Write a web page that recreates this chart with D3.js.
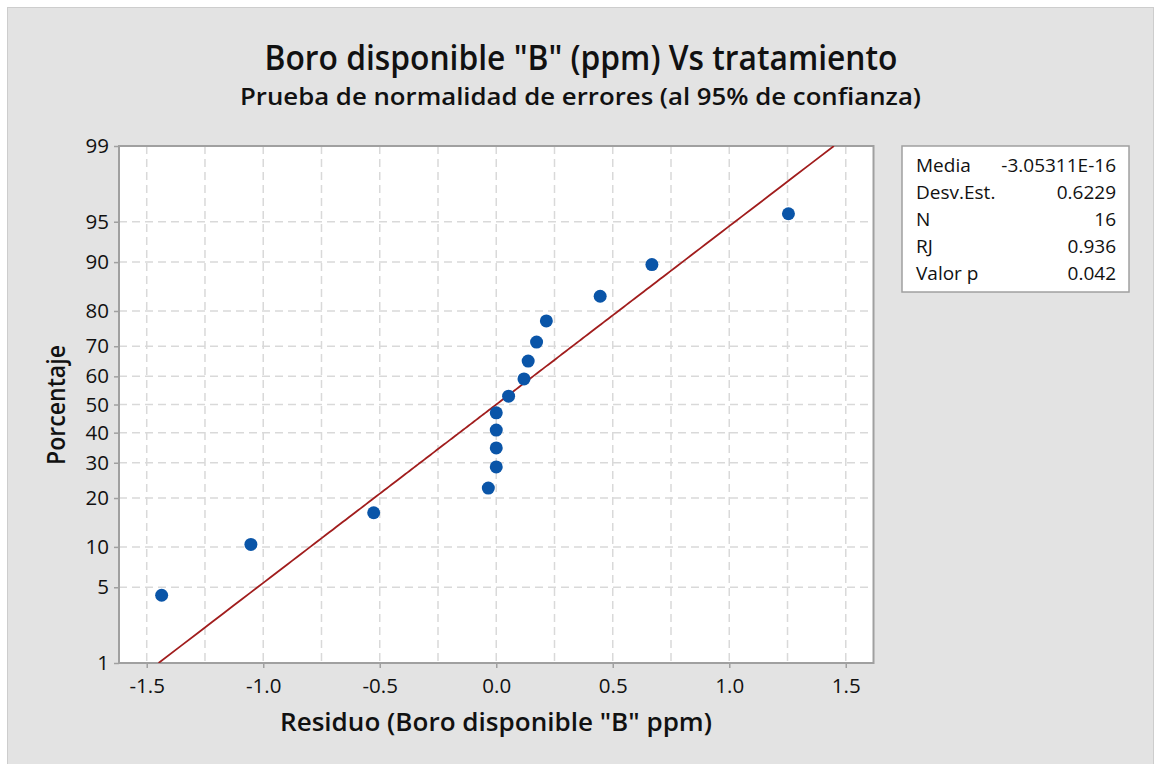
<!DOCTYPE html>
<html>
<head>
<meta charset="utf-8">
<script src="https://cdn.jsdelivr.net/npm/d3@7"></script>
<style>
  html, body { margin: 0; padding: 0; background: #ffffff; }
  svg { display: block; font-family: "Open Sans", "Noto Sans", sans-serif; }
</style>
</head>
<body>
<svg id="chart" width="1160" height="764"></svg>
<script>
// ---- Data ----
const residuals = [-1.436, -1.053, -0.526, -0.034, 0.0, 0.0, 0.0, 0.0,
                   0.053, 0.119, 0.137, 0.173, 0.215, 0.446, 0.668, 1.254];
const percents  = [4.3, 10.4, 16.5, 22.6, 28.7, 34.8, 40.9, 47.0,
                   53.0, 59.1, 65.2, 71.3, 77.4, 83.5, 89.6, 95.7];
const xTicks = [-1.5, -1.0, -0.5, 0.0, 0.5, 1.0, 1.5];
const xTickLabels = ["-1.5", "-1.0", "-0.5", "0.0", "0.5", "1.0", "1.5"];
const xGrid  = [-1.5, -1.25, -1.0, -0.75, -0.5, -0.25, 0, 0.25, 0.5, 0.75, 1.0, 1.25, 1.5];
const yTicks = [1, 5, 10, 20, 30, 40, 50, 60, 70, 80, 90, 95, 99];
const fitMean = -3.05311e-16;
const fitSD = 0.6229;
const statLabels = ["Media", "Desv.Est.", "N", "RJ", "Valor p"];
const statValues = ["-3.05311E-16", "0.6229", "16", "0.936", "0.042"];
const title = 'Boro disponible "B" (ppm) Vs tratamiento';
const subtitle = "Prueba de normalidad de errores (al 95% de confianza)";
const xTitle = 'Residuo (Boro disponible "B" ppm)';
const yTitle = "Porcentaje";

// inverse normal CDF (Acklam)
function invNorm(p) {
  const a = [-3.969683028665376e+01, 2.209460984245205e+02, -2.759285104469687e+02,
             1.383577518672690e+02, -3.066479806614716e+01, 2.506628277459239e+00];
  const b = [-5.447609879822406e+01, 1.615858368580409e+02, -1.556989798598866e+02,
             6.680131188771972e+01, -1.328068155288572e+01];
  const c = [-7.784894002430293e-03, -3.223964580411365e-01, -2.400758277161838e+00,
             -2.549671010115395e+00, 4.374664141464968e+00, 2.938163982698783e+00];
  const d = [7.784695709041462e-03, 3.224671290700398e-01, 2.445134137142996e+00,
             3.754408661907416e+00];
  const pl = 0.02425, ph = 1 - pl;
  let q, r;
  if (p < pl) {
    q = Math.sqrt(-2 * Math.log(p));
    return (((((c[0]*q+c[1])*q+c[2])*q+c[3])*q+c[4])*q+c[5]) / ((((d[0]*q+d[1])*q+d[2])*q+d[3])*q+1);
  } else if (p <= ph) {
    q = p - 0.5; r = q*q;
    return (((((a[0]*r+a[1])*r+a[2])*r+a[3])*r+a[4])*r+a[5])*q / (((((b[0]*r+b[1])*r+b[2])*r+b[3])*r+b[4])*r+1);
  } else {
    q = Math.sqrt(-2 * Math.log(1 - p));
    return -(((((c[0]*q+c[1])*q+c[2])*q+c[3])*q+c[4])*q+c[5]) / ((((d[0]*q+d[1])*q+d[2])*q+d[3])*q+1);
  }
}

const svg = d3.select("#chart");
const W = 1160, H = 764;
const plot = { left: 119, right: 873.5, top: 146, bottom: 663 };

// panel background
svg.append("rect").attr("x", 0).attr("y", 0).attr("width", W).attr("height", H).attr("fill", "#ffffff");
svg.append("rect").attr("x", 7.5).attr("y", 7.5).attr("width", 1146).attr("height", 770)
  .attr("fill", "#e3e3e3").attr("stroke", "#cdcdcd").attr("stroke-width", 1);

// scales
const x = d3.scaleLinear().domain([-1.619, 1.619]).range([plot.left, plot.right]);
const zScale = d3.scaleLinear().domain([invNorm(0.01), invNorm(0.99)]).range([plot.bottom, plot.top]);
const y = p => zScale(invNorm(p / 100));

// plot background
svg.append("rect").attr("x", plot.left).attr("y", plot.top)
  .attr("width", plot.right - plot.left).attr("height", plot.bottom - plot.top)
  .attr("fill", "#ffffff");

// gridlines
const grid = svg.append("g").attr("stroke", "#d9d9d9").attr("stroke-width", 1.5).attr("stroke-dasharray", "8,5");
grid.selectAll("line.v").data(xGrid).join("line").attr("class", "v")
  .attr("x1", d => x(d)).attr("x2", d => x(d))
  .attr("y1", plot.top).attr("y2", plot.bottom);
grid.selectAll("line.h").data(yTicks.filter(t => t > 1 && t < 99)).join("line").attr("class", "h")
  .attr("y1", d => y(d)).attr("y2", d => y(d))
  .attr("x1", plot.left).attr("x2", plot.right);

// axes
const xAxis = d3.axisBottom(x).tickValues(xTicks).tickSize(5).tickPadding(10)
  .tickFormat((d, i) => xTickLabels[i]);
const gx = svg.append("g").attr("transform", `translate(0,${plot.bottom})`).call(xAxis);
gx.select(".domain").remove();
gx.selectAll(".tick line").attr("stroke", "#a0a0a0").attr("stroke-width", 1.5);
gx.selectAll(".tick text").style("font-size", "20.5px").style("font-weight", "500").attr("fill", "#111")
  .style("font-family", "'Open Sans', sans-serif");

const yAxis = d3.axisLeft(zScale).tickValues(yTicks.map(t => invNorm(t / 100)))
  .tickSize(5).tickPadding(5).tickFormat((d, i) => yTicks[i]);
const gy = svg.append("g").attr("transform", `translate(${plot.left},0)`).call(yAxis);
gy.select(".domain").remove();
gy.selectAll(".tick line").attr("stroke", "#a0a0a0").attr("stroke-width", 1.5);
gy.selectAll(".tick text").style("font-size", "20.5px").style("font-weight", "500").attr("fill", "#111")
  .style("font-family", "'Open Sans', sans-serif");

// plot frame
svg.append("rect").attr("x", plot.left).attr("y", plot.top)
  .attr("width", plot.right - plot.left).attr("height", plot.bottom - plot.top)
  .attr("fill", "none").attr("stroke", "#a0a0a0").attr("stroke-width", 2);

// fitted line
const pLine = d3.range(1, 99.01, 0.5);
const clipId = "clipPlot";
svg.append("clipPath").attr("id", clipId).append("rect")
  .attr("x", plot.left).attr("y", plot.top).attr("width", plot.right - plot.left).attr("height", plot.bottom - plot.top);
svg.append("path")
  .datum(pLine)
  .attr("clip-path", `url(#${clipId})`)
  .attr("fill", "none").attr("stroke", "#a11d1d").attr("stroke-width", 1.8)
  .attr("d", d3.line().x(p => x(fitMean + fitSD * invNorm(p / 100))).y(p => y(p)));

// points
svg.append("g").selectAll("circle").data(residuals).join("circle")
  .attr("cx", d => x(d)).attr("cy", (d, i) => y(percents[i]))
  .attr("r", 6.5).attr("fill", "#0a55a8");

// titles
svg.append("text").attr("x", 581).attr("y", 70).attr("text-anchor", "middle")
  .attr("font-size", 35).attr("font-weight", 600).attr("fill", "#111")
  .attr("textLength", 633).attr("lengthAdjust", "spacingAndGlyphs").text(title);
svg.append("text").attr("x", 580.5).attr("y", 105).attr("text-anchor", "middle")
  .attr("font-size", 24).attr("font-weight", 600).attr("fill", "#111")
  .attr("textLength", 681).attr("lengthAdjust", "spacingAndGlyphs").text(subtitle);
svg.append("text").attr("x", 496).attr("y", 731).attr("text-anchor", "middle")
  .attr("font-size", 26).attr("font-weight", 600).attr("fill", "#111")
  .attr("textLength", 432).attr("lengthAdjust", "spacingAndGlyphs").text(xTitle);
svg.append("text").attr("transform", "translate(65,405) rotate(-90)").attr("text-anchor", "middle")
  .attr("font-size", 26).attr("font-weight", 600).attr("fill", "#111")
  .attr("textLength", 120).attr("lengthAdjust", "spacingAndGlyphs").text(yTitle);

// stats box
const box = svg.append("g");
box.append("rect").attr("x", 902).attr("y", 146).attr("width", 227).attr("height", 146)
  .attr("fill", "#ffffff").attr("stroke", "#a0a0a0").attr("stroke-width", 1.5);
box.selectAll("text.lab").data(statLabels).join("text").attr("class", "lab")
  .attr("x", 916).attr("y", (d, i) => 172 + i * 26.9)
  .style("font-size", "19px").style("font-weight", "500").attr("fill", "#111").text(d => d);
box.selectAll("text.val").data(statValues).join("text").attr("class", "val")
  .attr("x", 1116).attr("y", (d, i) => 172 + i * 26.9).attr("text-anchor", "end")
  .style("font-size", "19px").style("font-weight", "500").attr("fill", "#111").text(d => d);
</script>
</body>
</html>
